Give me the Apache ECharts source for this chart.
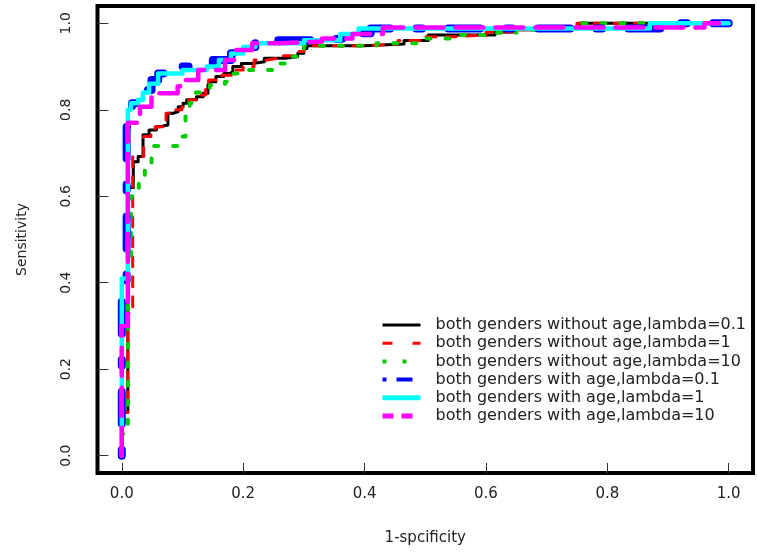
<!DOCTYPE html>
<html>
<head>
<meta charset="utf-8">
<script src="https://cdn.jsdelivr.net/npm/echarts@6/dist/echarts.min.js"></script>
<style>
html,body{margin:0;padding:0;background:#fff;}
#chart{width:757px;height:555px;}
</style>
</head>
<body>
<div id="chart"></div>
<script>
// ---- data ----
const seriesNames = [
  'both genders without age,lambda=0.1',
  'both genders without age,lambda=1',
  'both genders without age,lambda=10',
  'both genders with age,lambda=0.1',
  'both genders with age,lambda=1',
  'both genders with age,lambda=10'
];
const tickValues = [0, 0.2, 0.4, 0.6, 0.8, 1.0];
const xTitle = '1-spcificity';
const yTitle = 'Sensitivity';

// [1-specificity, sensitivity]
const noAgeL01 = [[0,0],[0,0.1],[0.01,0.1],[0.01,0.62],[0.019,0.62],[0.019,0.68],[0.027,0.68],[0.027,0.692],[0.035,0.692],[0.035,0.742],[0.045,0.742],[0.045,0.753],[0.057,0.753],[0.057,0.761],[0.063,0.761],[0.063,0.765],[0.076,0.765],[0.076,0.792],[0.085,0.792],[0.085,0.796],[0.093,0.796],[0.093,0.807],[0.101,0.807],[0.101,0.815],[0.107,0.815],[0.107,0.823],[0.123,0.823],[0.123,0.83],[0.134,0.83],[0.134,0.838],[0.142,0.838],[0.142,0.857],[0.145,0.857],[0.145,0.865],[0.155,0.865],[0.155,0.877],[0.168,0.877],[0.168,0.884],[0.178,0.884],[0.178,0.888],[0.183,0.888],[0.183,0.9],[0.197,0.9],[0.197,0.907],[0.215,0.907],[0.215,0.911],[0.235,0.911],[0.235,0.919],[0.27,0.919],[0.27,0.923],[0.29,0.923],[0.29,0.931],[0.3,0.931],[0.3,0.942],[0.305,0.942],[0.305,0.948],[0.4,0.948],[0.4,0.952],[0.465,0.952],[0.465,0.96],[0.505,0.96],[0.505,0.973],[0.615,0.973],[0.615,0.98],[0.645,0.98],[0.645,0.985],[0.71,0.985],[0.71,0.99],[0.755,0.99],[0.755,1.0],[1,1]];
const noAgeL1 = [[0,0],[0,0.1],[0.01,0.1],[0.01,0.33],[0.018,0.33],[0.018,0.692],[0.036,0.692],[0.036,0.738],[0.048,0.738],[0.048,0.752],[0.055,0.752],[0.055,0.761],[0.073,0.761],[0.073,0.792],[0.088,0.792],[0.088,0.8],[0.099,0.8],[0.099,0.807],[0.11,0.807],[0.11,0.823],[0.125,0.823],[0.125,0.834],[0.138,0.834],[0.138,0.85],[0.143,0.85],[0.143,0.869],[0.165,0.869],[0.165,0.88],[0.183,0.88],[0.183,0.892],[0.2,0.892],[0.2,0.9],[0.218,0.9],[0.218,0.915],[0.24,0.915],[0.24,0.919],[0.255,0.919],[0.255,0.925],[0.285,0.925],[0.285,0.935],[0.3,0.935],[0.3,0.948],[0.39,0.948],[0.39,0.952],[0.455,0.952],[0.455,0.96],[0.5,0.96],[0.5,0.969],[0.55,0.969],[0.55,0.973],[0.6,0.973],[0.6,0.98],[0.65,0.98],[0.65,0.985],[0.72,0.985],[0.72,0.99],[0.75,0.99],[0.75,1.0],[1,1]];
const noAgeL10 = [[0,0],[0,0.05],[0.01,0.05],[0.01,0.45],[0.015,0.45],[0.015,0.6],[0.02,0.6],[0.02,0.61],[0.028,0.61],[0.028,0.638],[0.038,0.638],[0.038,0.661],[0.049,0.661],[0.049,0.716],[0.092,0.716],[0.092,0.738],[0.105,0.738],[0.105,0.79],[0.112,0.79],[0.112,0.815],[0.122,0.815],[0.122,0.84],[0.132,0.84],[0.132,0.85],[0.145,0.85],[0.145,0.857],[0.17,0.857],[0.17,0.865],[0.176,0.865],[0.176,0.884],[0.2,0.884],[0.2,0.892],[0.25,0.892],[0.25,0.907],[0.27,0.907],[0.27,0.923],[0.288,0.923],[0.288,0.938],[0.3,0.938],[0.3,0.948],[0.42,0.948],[0.42,0.954],[0.5,0.954],[0.5,0.965],[0.55,0.965],[0.55,0.973],[0.6,0.973],[0.6,0.978],[0.65,0.978],[0.65,0.985],[0.7,0.985],[0.7,0.99],[0.75,0.99],[0.75,1.0],[1,1]];
const ageL01 = [[0,0],[0,0.4],[0.008,0.4],[0.008,0.76],[0.017,0.76],[0.017,0.815],[0.03,0.815],[0.03,0.83],[0.038,0.83],[0.038,0.846],[0.049,0.846],[0.049,0.869],[0.06,0.869],[0.06,0.884],[0.1,0.884],[0.1,0.9],[0.15,0.9],[0.15,0.915],[0.18,0.915],[0.18,0.931],[0.2,0.931],[0.2,0.945],[0.22,0.945],[0.22,0.954],[0.24,0.954],[0.24,0.961],[0.32,0.961],[0.32,0.965],[0.37,0.965],[0.37,0.977],[0.41,0.977],[0.41,0.988],[0.9,0.988],[0.9,1.0],[1,1]];
const ageL1 = [[0,0],[0,0.41],[0.01,0.41],[0.01,0.8],[0.015,0.8],[0.015,0.815],[0.027,0.815],[0.027,0.823],[0.035,0.823],[0.035,0.84],[0.045,0.84],[0.045,0.86],[0.06,0.86],[0.06,0.884],[0.1,0.884],[0.1,0.892],[0.14,0.892],[0.14,0.9],[0.16,0.9],[0.16,0.915],[0.18,0.915],[0.18,0.93],[0.2,0.93],[0.2,0.945],[0.22,0.945],[0.22,0.954],[0.3,0.954],[0.3,0.961],[0.36,0.961],[0.36,0.975],[0.39,0.975],[0.39,0.988],[0.87,0.988],[0.87,1.0],[1,1]];
const ageL10 = [[0,0],[0,0.3],[0.01,0.3],[0.01,0.77],[0.03,0.77],[0.03,0.807],[0.049,0.807],[0.049,0.838],[0.092,0.838],[0.092,0.854],[0.096,0.854],[0.096,0.869],[0.126,0.869],[0.126,0.892],[0.17,0.892],[0.17,0.915],[0.185,0.915],[0.185,0.938],[0.215,0.938],[0.215,0.954],[0.26,0.954],[0.26,0.958],[0.33,0.958],[0.33,0.965],[0.38,0.965],[0.38,0.975],[0.43,0.975],[0.43,0.99],[0.96,0.99],[0.96,1.0],[1,1]];

const curves = [noAgeL01, noAgeL1, noAgeL10, ageL01, ageL1, ageL10];

// ---- styles ----
const colors = ['#000000', '#ff0000', '#00cc00', '#0000ff', '#00ffff', '#ff00ff'];
const plotLine = [
  {width: 3, type: 'solid'},
  {width: 3, type: [10, 10]},
  {width: 4, type: [4, 15]},
  {width: 8, type: [6, 26, 32, 26]},
  {width: 4.5, type: 'solid'},
  {width: 4.5, type: [28, 12]}
];
const legendLine = [
  {width: 3, type: 'solid'},
  {width: 3, type: [10, 20]},
  {width: 4, type: [4, 16]},
  {width: 4, type: [4, 10, 16, 10]},
  {width: 5, type: 'solid'},
  {width: 5, type: [11, 8]}
];

const chart = echarts.init(document.getElementById('chart'), null, {renderer: 'canvas'});
const fmt = v => v.toFixed(1);

const option = {
  animation: false,
  backgroundColor: '#ffffff',
  grid: {
    left: 97.5, right: 4, top: 6, bottom: 82,
    show: true, borderColor: '#000', borderWidth: 4,
    backgroundColor: 'transparent',
    outerBoundsMode: 'none', containLabel: false
  },
  xAxis: {
    type: 'value', min: -0.04, max: 1.04,
    axisLine: {show: false, onZero: false},
    splitLine: {show: false},
    axisTick: {show: true, customValues: tickValues, length: 10, inside: true, lineStyle: {color: '#333', width: 1}},
    axisLabel: {customValues: tickValues, formatter: fmt, color: '#222', fontSize: 15, fontFamily: 'DejaVu Sans', margin: 14},
    name: xTitle, nameLocation: 'middle', nameGap: 58,
    nameTextStyle: {color: '#222', fontSize: 15, fontFamily: 'DejaVu Sans'}
  },
  yAxis: {
    type: 'value', min: -0.04, max: 1.04,
    axisLine: {show: false, onZero: false},
    splitLine: {show: false},
    axisTick: {show: true, customValues: tickValues, length: 11, inside: true, lineStyle: {color: '#333', width: 1}},
    axisLabel: {customValues: tickValues, formatter: fmt, color: '#222', fontSize: 14, fontFamily: 'DejaVu Sans', margin: 24, rotate: 90},
    name: yTitle, nameLocation: 'middle', nameGap: 68, nameRotate: 90,
    nameTextStyle: {color: '#222', fontSize: 14, fontFamily: 'DejaVu Sans'}
  },
  legend: {
    orient: 'vertical', left: 380, top: 316,
    itemWidth: 38, itemHeight: 12, itemGap: 0.2,
    padding: 0,
    selectedMode: false,
    textStyle: {fontFamily: 'DejaVu Sans', fontSize: 16, color: '#222', lineHeight: 18, padding: [0, 0, 0, 10]},
    data: seriesNames.map((n, i) => ({
      name: n,
      itemStyle: {color: 'rgba(0,0,0,0)', borderWidth: 0, opacity: 0},
      lineStyle: {color: colors[i], width: legendLine[i].width, type: legendLine[i].type, cap: 'butt'}
    }))
  },
  series: curves.map((pts, i) => ({
    type: 'line',
    name: seriesNames[i],
    data: pts,
    symbol: 'none',
    showSymbol: false,
    silent: true,
    z: 2 + i,
    lineStyle: {color: colors[i], width: plotLine[i].width, type: plotLine[i].type, cap: 'round', join: 'round'}
  }))
};
chart.setOption(option);
</script>
</body>
</html>
